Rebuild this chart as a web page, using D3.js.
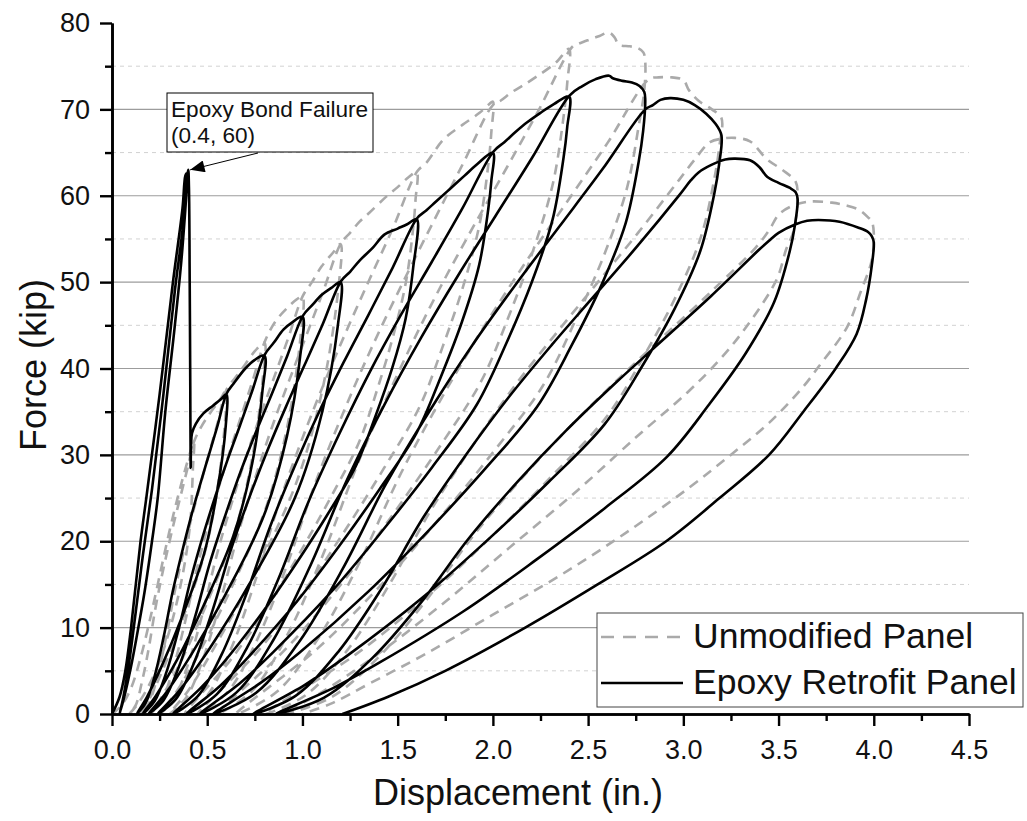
<!DOCTYPE html>
<html>
<head>
<meta charset="utf-8">
<script src="https://cdn.jsdelivr.net/npm/d3@7"></script>
<style>
  body { margin: 0; background: #fff; }
  svg text { font-family: Arial, "Liberation Sans", sans-serif; fill: #111; }
</style>
</head>
<body>
<div id="chart"></div>
<script>
// tick values
const xTicks = [0, 0.5, 1.0, 1.5, 2.0, 2.5, 3.0, 3.5, 4.0, 4.5];
const xMinor = [0.25, 0.75, 1.25, 1.75, 2.25, 2.75, 3.25, 3.75, 4.25];
const yTicks = [0, 10, 20, 30, 40, 50, 60, 70, 80];
const yMinor = [5, 15, 25, 35, 45, 55, 65, 75];
const yGrid = [10, 20, 30, 40, 50, 60, 70];

const seriesNames = ['Unmodified Panel', 'Epoxy Retrofit Panel'];

// Unmodified panel, [displacement, force]
const unmodified = [
  [0,0],[0.05,1],[0.10,3],[0.15,6.5],[0.20,11],[0.25,16],[0.30,21],[0.35,25.5],[0.40,29.5],[0.43,31.5],
  [0.425,28.5],[0.41,22],[0.37,16],[0.30,9.5],[0.22,4.5],[0.14,1.3],[0.09,0],
  [0.124,1],[0.158,3.8],[0.192,7.5],[0.226,12],[0.26,15.8],[0.294,19.2],[0.328,22.4],[0.362,25.4],[0.396,28.4],[0.432,31.6],
  [0.47,33.3],[0.52,35],[0.57,36.5],[0.60,37.5],
  [0.593,33.75],[0.555,26.25],[0.488,18.75],[0.375,11.25],[0.276,5.6],[0.20,1.9],[0.15,0],
  [0.195,1.3],[0.24,4.5],[0.285,9],[0.33,14.25],[0.375,18.75],[0.42,22.9],[0.465,26.6],[0.51,30.2],[0.555,33.75],[0.602,37.6],
  [0.65,39],[0.70,40.5],[0.75,42],[0.80,43],
  [0.791,38.7],[0.74,30.1],[0.65,21.5],[0.50,12.9],[0.37,6.45],[0.266,2.15],[0.20,0],
  [0.26,1.5],[0.32,5.2],[0.38,10.3],[0.44,16.3],[0.50,21.5],[0.56,26.2],[0.62,30.5],[0.68,34.6],[0.74,38.7],[0.802,43.1],
  [0.86,45.5],[0.92,47],[0.97,48],[1.0,48.3],
  [0.989,43.5],[0.925,33.8],[0.8125,24.15],[0.625,14.5],[0.46,7.2],[0.333,2.4],[0.25,0],
  [0.325,1.7],[0.40,5.8],[0.475,11.6],[0.55,18.4],[0.625,24.15],[0.70,29.5],[0.775,34.3],[0.85,38.9],[0.925,43.5],[1.002,48.4],
  [1.05,50],[1.10,51.8],[1.16,53.4],[1.20,54.4],
  [1.187,49],[1.11,38.1],[0.975,27.2],[0.75,16.3],[0.55,8.2],[0.40,2.7],[0.30,0],
  [0.39,1.9],[0.48,6.5],[0.57,13.1],[0.66,20.7],[0.75,27.2],[0.84,33.2],[0.93,38.6],[1.02,43.8],[1.11,49],[1.202,54.5],
  [1.25,55.7],[1.30,57],[1.35,58],[1.44,59.9],[1.50,61],[1.56,62.2],[1.60,62.7],
  [1.594,59.6],[1.582,56.4],[1.545,50.2],[1.478,43.9],[1.393,37.6],[1.295,31.35],[1.149,25.1],[0.99,18.8],[0.819,12.5],[0.624,6.3],[0.38,0],
  [0.502,2.2],[0.624,7.5],[0.746,15],[0.868,23.8],[0.99,31.35],[1.112,38.2],[1.234,44.5],[1.356,50.5],[1.478,56.4],[1.602,62.8],
  [1.65,63.8],[1.74,66.5],[1.84,68.2],[1.93,69.6],[1.98,70.6],[2.0,70.9],
  [1.992,67.4],[1.977,63.8],[1.93,56.7],[1.845,49.6],[1.736,42.5],[1.6125,35.45],[1.4265,28.4],[1.225,21.3],[1.008,14.2],[0.76,7.1],[0.45,0],
  [0.605,2.5],[0.76,8.5],[0.915,17],[1.07,26.9],[1.225,35.45],[1.38,43.2],[1.535,50.3],[1.69,57.1],[1.845,63.8],[2.0,70.5],
  [2.04,71],[2.10,72],[2.16,72.8],[2.23,73.8],[2.33,75.4],[2.40,77],
  [2.391,73.2],[2.372,69.3],[2.317,61.6],[2.215,53.9],[2.086,46.2],[1.938,38.5],[1.716,30.8],[1.475,23.1],[1.216,15.4],[0.92,7.7],[0.55,0],
  [0.737,2.7],[0.924,9.3],[1.111,18.6],[1.298,29.4],[1.485,38.65],[1.672,47.2],[1.859,54.9],[2.046,62.2],[2.233,69.6],[2.42,77.3],
  [2.45,77.6],[2.51,78.1],[2.56,78.5],[2.61,78.9],[2.64,78.3],[2.66,77.5],[2.72,77.3],[2.76,77.1],[2.79,76.6],[2.80,75.5],
  [2.795,72.2],[2.768,68.4],[2.703,60.8],[2.585,53.2],[2.434,45.6],[2.2625,38],[2.0045,30.4],[1.725,22.8],[1.424,15.2],[1.08,7.6],[0.65,0],
  [0.867,2.6],[1.084,8.8],[1.301,17.6],[1.518,27.9],[1.735,36.75],[1.952,44.8],[2.169,52.2],[2.386,59.2],[2.603,66.15],[2.82,73.5],
  [2.87,73.7],[2.94,73.7],[3.0,73.4],[3.03,72.2],[3.08,71],[3.15,70],[3.20,69],
  [3.188,65.55],[3.164,62.1],[3.092,55.2],[2.96,48.3],[2.792,41.4],[2.60,34.5],[2.312,27.6],[2.0,20.7],[1.664,13.8],[1.28,6.9],[0.80,0],
  [1.018,2.2],[1.236,7.4],[1.454,14.9],[1.672,23.5],[1.89,30.95],[2.108,37.8],[2.326,43.9],[2.544,49.8],[2.762,55.7],[2.98,61.9],
  [3.06,64.2],[3.14,66.2],[3.20,66.6],[3.27,66.7],[3.35,66.3],[3.44,64.2],[3.52,63],[3.59,61.6],[3.60,59.9],
  [3.58,56],[3.54,53.8],[3.49,50.3],[3.33,44.8],[3.19,41],[3.02,37.2],[2.75,32],[2.45,26],[2.10,19.5],[1.75,13],[1.40,7],[1.10,2.5],[0.90,0],
  [1.148,1.9],[1.396,6.5],[1.644,13],[1.892,20.5],[2.14,27],[2.388,32.9],[2.636,38.3],[2.884,43.5],[3.132,48.6],[3.38,54],
  [3.45,56],[3.50,57.8],[3.56,58.7],[3.65,59.3],[3.78,59.2],[3.85,58.9],[3.92,58.4],[3.97,57.5],[3.99,57],[4.0,55.7],
  [3.99,52.6],[3.93,48.8],[3.86,44.8],[3.71,40.2],[3.63,37.9],[3.45,33.7],[3.26,30.2],[3.03,26.2],[2.70,21],[2.35,16],[2.0,11.5],[1.65,7],[1.35,3.5],[1.15,1.2],[1.0,0]
];

// Epoxy retrofit panel, [displacement, force]
const epoxy = [
  [0,0],[0.04,2],[0.07,5],[0.10,10],[0.15,20],[0.18,25],[0.25,37],[0.32,50],[0.37,58.5],[0.385,62.3],
  [0.392,62.6],[0.37,54],[0.33,45],[0.28,35],[0.24,25],[0.21,20],[0.17,14],[0.13,9],[0.10,5.5],[0.07,2.5],[0.04,0],
  [0.06,2],[0.09,6],[0.12,11],[0.16,18],[0.21,26],[0.27,37],[0.33,49],[0.37,56],[0.40,63],
  [0.404,61],[0.408,50],[0.411,38],[0.413,28.5],[0.415,31],[0.42,32.5],
  [0.44,33.6],[0.48,34.8],[0.53,35.7],[0.57,36.4],[0.60,37],
  [0.597,33.3],[0.553,25.9],[0.483,18.5],[0.365,11.1],[0.262,5.6],[0.182,1.9],[0.13,0],
  [0.177,1.3],[0.224,4.4],[0.271,8.9],[0.318,14.1],[0.365,18.5],[0.412,22.6],[0.459,26.3],[0.506,29.8],[0.553,33.3],[0.602,37.1],
  [0.64,38.3],[0.70,40],[0.75,41],[0.80,41.5],
  [0.79,37.4],[0.736,29],[0.64,20.8],[0.48,12.5],[0.34,6.2],[0.23,2.1],[0.16,0],
  [0.224,1.5],[0.288,5],[0.352,10],[0.416,15.8],[0.48,20.8],[0.544,25.3],[0.608,29.5],[0.672,33.4],[0.736,37.4],[0.802,41.6],
  [0.85,43],[0.90,44.5],[0.95,45.4],[1.0,46],
  [0.988,41.4],[0.919,32.2],[0.798,23],[0.595,13.8],[0.417,6.9],[0.279,2.3],[0.19,0],
  [0.271,1.6],[0.352,5.5],[0.433,11],[0.514,17.5],[0.595,23],[0.676,28.1],[0.757,32.7],[0.838,37],[0.919,41.4],[1.002,46.1],
  [1.05,47.3],[1.10,48.5],[1.15,49.3],[1.20,50],
  [1.186,45],[1.104,35],[0.96,25],[0.72,15],[0.51,7.5],[0.346,2.5],[0.24,0],
  [0.336,1.75],[0.432,6],[0.528,12],[0.624,19],[0.72,25],[0.816,30.5],[0.912,35.5],[1.008,40.25],[1.104,45],[1.202,50.1],
  [1.25,51.2],[1.30,52.5],[1.37,54],[1.43,55.5],[1.50,56.2],[1.55,56.7],[1.60,57.3],
  [1.581,51.6],[1.542,45.8],[1.472,40.1],[1.382,34.4],[1.28,28.7],[1.126,22.9],[0.96,17.2],[0.781,11.5],[0.576,5.7],[0.461,2.9],[0.32,0],
  [0.448,2],[0.576,6.9],[0.704,13.8],[0.832,21.8],[0.96,28.7],[1.088,35],[1.216,40.7],[1.344,46.1],[1.472,51.6],[1.602,57.4],
  [1.65,58.3],[1.70,59.3],[1.77,60.7],[1.85,62.3],[1.92,63.7],[2.0,65],
  [1.992,61.75],[1.976,58.5],[1.928,52],[1.839,45.5],[1.726,39],[1.598,32.5],[1.404,26],[1.195,19.5],[0.97,13],[0.712,6.5],[0.567,3.25],[0.39,0],
  [0.551,2.3],[0.712,7.8],[0.873,15.6],[1.034,24.7],[1.195,32.5],[1.356,39.7],[1.517,46.2],[1.678,52.3],[1.839,58.5],[2.002,65.1],
  [2.06,66.2],[2.12,67.4],[2.18,68.5],[2.25,69.6],[2.32,70.6],[2.40,71.5],
  [2.39,67.9],[2.371,64.4],[2.313,57.2],[2.206,50.1],[2.07,42.9],[1.915,35.8],[1.682,28.6],[1.43,21.5],[1.158,14.3],[0.848,7.2],[0.673,3.6],[0.46,0],
  [0.654,2.5],[0.848,8.6],[1.042,17.2],[1.236,27.2],[1.43,35.8],[1.624,43.6],[1.818,50.8],[2.012,57.6],[2.206,64.4],[2.402,71.6],
  [2.47,72.7],[2.54,73.5],[2.61,73.9],[2.63,73.6],[2.68,73.3],[2.73,73.1],[2.77,72.7],[2.795,72.0],[2.80,71.1],
  [2.789,67.5],[2.766,64],[2.698,56.9],[2.573,49.8],[2.414,42.7],[2.233,35.6],[1.96,28.4],[1.665,21.3],[1.347,14.2],[0.984,7.1],[0.78,3.6],[0.53,0],
  [0.757,2.45],[0.984,8.4],[1.211,16.8],[1.438,26.6],[1.665,35],[1.892,42.7],[2.119,49.7],[2.346,56.35],[2.573,63],[2.80,70],
  [2.84,70.5],[2.88,71.1],[2.93,71.3],[3.0,71.1],[3.06,70.5],[3.12,69.5],[3.17,68.3],[3.20,67],
  [3.188,63.65],[3.163,60.3],[3.089,53.6],[2.954,46.9],[2.782,40.2],[2.585,33.5],[2.29,26.8],[1.97,20.1],[1.626,13.4],[1.232,6.7],[1.011,3.35],[0.74,0],
  [0.964,2.1],[1.188,7.2],[1.412,14.4],[1.636,22.8],[1.86,30.05],[2.084,36.7],[2.308,42.7],[2.532,48.4],[2.756,54.1],[2.98,60.1],
  [3.04,61.8],[3.08,62.7],[3.15,63.6],[3.22,64.2],[3.27,64.3],[3.35,64.1],[3.40,63.3],[3.44,62.2],[3.50,61.5],[3.56,60.9],[3.59,60.4],[3.60,59.6],
  [3.586,56.6],[3.559,53.6],[3.477,47.7],[3.326,41.7],[3.134,35.8],[2.915,29.8],[2.586,23.8],[2.23,17.9],[1.846,11.9],[1.408,6.0],[1.161,3.0],[0.86,0],
  [1.114,1.9],[1.368,6.5],[1.622,12.9],[1.876,20.4],[2.13,26.9],[2.384,32.8],[2.638,38.2],[2.892,43.3],[3.146,48.4],[3.40,53.8],
  [3.45,54.8],[3.50,55.7],[3.59,56.7],[3.65,57.1],[3.71,57.2],[3.82,57.0],[3.92,56.3],[3.97,55.8],[3.99,55.3],[4.0,54.6],
  [3.99,52],[3.96,48],[3.91,44],[3.80,40],[3.63,35],[3.45,30],[3.19,25],[2.91,20],[2.55,15],[2.17,10],[1.75,5],[1.45,2],[1.21,0]
];

// annotation
const note = { x: 0.4, y: 63, lines: ['Epoxy Bond Failure', '(0.4, 60)'] };

const width = 1027, height = 821;
const svg = d3.select('#chart').append('svg')
  .attr('width', width)
  .attr('height', height);

const x = d3.scaleLinear().domain([0, 4.5]).range([112, 969]);
const y = d3.scaleLinear().domain([0, 80]).range([714, 23]);

// minor gridlines (dotted) and major gridlines
svg.append('g').selectAll('line')
  .data(yMinor)
  .enter().append('line')
  .attr('x1', x(0)).attr('x2', x(4.5))
  .attr('y1', d => y(d)).attr('y2', d => y(d))
  .attr('stroke', '#d2d2d2').attr('stroke-width', 1)
  .attr('stroke-dasharray', '4,4');

svg.append('g').selectAll('line')
  .data(yGrid)
  .enter().append('line')
  .attr('x1', x(0)).attr('x2', x(4.5))
  .attr('y1', d => y(d)).attr('y2', d => y(d))
  .attr('stroke', '#9c9c9c').attr('stroke-width', 1.2);

const line = d3.line()
  .x(d => x(d[0]))
  .y(d => y(d[1]))
  .curve(d3.curveCatmullRom.alpha(0.5));

svg.append('path')
  .datum(unmodified)
  .attr('d', line)
  .attr('fill', 'none')
  .attr('stroke', '#aaaaaa')
  .attr('stroke-width', 2.6)
  .attr('stroke-dasharray', '10,7');

svg.append('path')
  .datum(epoxy)
  .attr('d', line)
  .attr('fill', 'none')
  .attr('stroke', '#000')
  .attr('stroke-width', 2.6)
  .attr('stroke-linejoin', 'round');

// axes
const xAxis = d3.axisBottom(x).tickValues(xTicks).tickSize(12).tickPadding(14)
  .tickSizeOuter(0).tickFormat(d3.format('.1f'));
const xAxisMinor = d3.axisBottom(x).tickValues(xMinor).tickSize(7).tickSizeOuter(0).tickFormat('');
const yAxis = d3.axisLeft(y).tickValues(yTicks).tickSize(12).tickPadding(10)
  .tickSizeOuter(0).tickFormat(d3.format('d'));
const yAxisMinor = d3.axisLeft(y).tickValues(yMinor).tickSize(7).tickSizeOuter(0).tickFormat('');

function styleAxis(g) {
  g.select('.domain').attr('stroke', '#000').attr('stroke-width', 2.6);
  g.selectAll('.tick line').attr('stroke', '#000').attr('stroke-width', 2.4);
  g.selectAll('.tick text').attr('fill', '#111').style('font-size', '27px')
    .style('font-family', 'Arial, "Liberation Sans", sans-serif');
}

svg.append('g').attr('transform', `translate(0,${y(0)})`).call(xAxisMinor).call(styleAxis);
svg.append('g').attr('transform', `translate(0,${y(0)})`).call(xAxis).call(styleAxis);
svg.append('g').attr('transform', `translate(${x(0)},0)`).call(yAxisMinor).call(styleAxis);
svg.append('g').attr('transform', `translate(${x(0)},0)`).call(yAxis).call(styleAxis);

// axis titles
svg.append('text')
  .attr('x', 518).attr('y', 805)
  .attr('text-anchor', 'middle')
  .style('font-size', '36px')
  .text('Displacement (in.)');

svg.append('text')
  .attr('transform', 'translate(46,365) rotate(-90)')
  .attr('text-anchor', 'middle')
  .style('font-size', '36px')
  .text('Force (kip)');

// annotation box and arrow
const ann = svg.append('g');
ann.append('rect')
  .attr('x', 167).attr('y', 93).attr('width', 206).attr('height', 59)
  .attr('fill', '#fff').attr('stroke', '#000').attr('stroke-width', 1);
ann.selectAll('text')
  .data(note.lines)
  .enter().append('text')
  .attr('x', 171).attr('y', (d, i) => 117 + i * 26)
  .style('font-size', '22.6px')
  .text(d => d);

svg.append('defs').append('marker')
  .attr('id', 'arrow')
  .attr('viewBox', '0 0 12 10')
  .attr('refX', 12).attr('refY', 5)
  .attr('markerWidth', 16).attr('markerHeight', 12)
  .attr('markerUnits', 'userSpaceOnUse')
  .attr('orient', 'auto')
  .append('path').attr('d', 'M0,0 L12,5 L0,10 Z').attr('fill', '#000');

ann.append('line')
  .attr('x1', 258).attr('y1', 153)
  .attr('x2', x(note.x) + 2).attr('y2', y(note.y))
  .attr('stroke', '#000').attr('stroke-width', 1)
  .attr('marker-end', 'url(#arrow)');

// legend
const legend = svg.append('g');
legend.append('rect')
  .attr('x', 597).attr('y', 613).attr('width', 426).attr('height', 94)
  .attr('fill', '#fff').attr('stroke', '#444').attr('stroke-width', 1);

const legendRows = [
  { name: seriesNames[0], color: '#aaaaaa', dash: '13,9', y: 637 },
  { name: seriesNames[1], color: '#000', dash: null, y: 683 }
];
legendRows.forEach(r => {
  legend.append('line')
    .attr('x1', 601).attr('x2', 683)
    .attr('y1', r.y).attr('y2', r.y)
    .attr('stroke', r.color).attr('stroke-width', 2.6)
    .attr('stroke-dasharray', r.dash);
  legend.append('text')
    .attr('x', 693).attr('y', r.y + 11)
    .style('font-size', '35.5px')
    .text(r.name);
});
</script>
</body>
</html>
